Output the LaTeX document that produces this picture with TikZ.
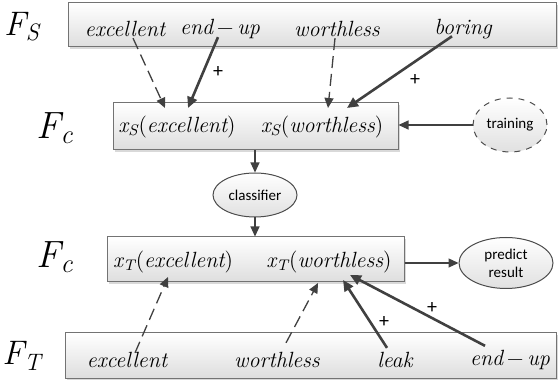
\documentclass[tikz,border=0pt]{standalone}
\usepackage{fontspec}
\newfontfamily\calibri{Carlito}
\usetikzlibrary{arrows.meta,shadows,shapes.geometric,calc}

\begin{document}
\begin{tikzpicture}[x=0.5pt,y=0.5pt,yscale=-1,xscale=1,
  band/.style={draw=black!55,line width=0.5pt,top color=white,bottom color=black!13,
    drop shadow={shadow xshift=1pt,shadow yshift=-1pt,fill=black!25,opacity=0.6},inner sep=0pt},
  oval/.style={ellipse,draw=black!70,line width=0.5pt,top color=white,bottom color=black!12,
    inner sep=0pt,align=center,font=\calibri\fontsize{7.5}{9}\selectfont},
  word/.style={inner sep=0pt,font=\fontsize{11}{13}\selectfont\itshape\addfontfeature{FakeBold=0.6}},
  lvl/.style={inner sep=0pt,font=\fontsize{17}{17}\selectfont\itshape\addfontfeature{FakeBold=0.8}},
  plus/.style={inner sep=0pt,font=\calibri\fontsize{10}{10}\selectfont},
  dsh/.style={draw=black!75,line width=0.65pt,dash pattern=on 6pt off 3pt,-{Triangle[length=5pt,width=4.5pt]}},
  gain/.style={draw=black!75,line width=1.3pt,-{Triangle[length=5.5pt,width=5pt]}},
  flow/.style={draw=black!75,line width=0.6pt,-{Triangle[length=5pt,width=4.5pt]}}]
\useasboundingbox (0,0) rectangle (560,383);

%Shape: Rectangle [source domain]
\node[band,minimum width=244pt,minimum height=22pt] (FSbox) at (312,25) {};
%Shape: Rectangle [common features, source]
\node[band,minimum width=142.5pt,minimum height=23.5pt] (C1) at (255.5,126.5) {};
%Shape: Rectangle [common features, target]
\node[band,minimum width=148.5pt,minimum height=22.5pt] (C2) at (255.5,259.5) {};
%Shape: Rectangle [target domain]
\node[band,minimum width=245.5pt,minimum height=22.5pt] (FTbox) at (310.5,355.5) {};

%Shape: Ellipse
\node[oval,dashed,minimum width=37pt,minimum height=27pt] (train) at (510,125) {training};
%Shape: Ellipse
\node[oval,minimum width=42pt,minimum height=22pt] (cls) at (255,195) {classifier};
%Shape: Ellipse
\node[oval,minimum width=47pt,minimum height=25.5pt] (pred) at (506,263) {predict\\result};

% Text Node
\node[lvl] (FS) at (22,27) {F\textsubscript{S}};
\node[lvl,font=\fontsize{19}{19}\selectfont\itshape\addfontfeature{FakeBold=1.6}] (Fc1) at (55,128) {F\textsubscript{c}};
\node[lvl,font=\fontsize{19}{19}\selectfont\itshape\addfontfeature{FakeBold=1.6}] (Fc2) at (55,257) {F\textsubscript{c}};
\node[lvl] (FT) at (22,356) {F\textsubscript{T}};

% Text Node
\node[word] (ex) at (125,29) {excellent};
\node[word] (endup) at (220,29) {end\,\upshape −\,\itshape up};
\node[word] (wl) at (337,29) {worthless};
\node[word] (bor) at (463,29) {boring};
% Text Node
\node[word] (xse) at (177,127) {x\textsubscript{S}\upshape(\itshape excellent\upshape)};
\node[word] (xsw) at (322,127) {x\textsubscript{S}\upshape(\itshape worthless\upshape)};
\node[word] (xte) at (173,262) {x\textsubscript{T}\upshape(\itshape excellent\upshape)};
\node[word] (xtw) at (329,262) {x\textsubscript{T}\upshape(\itshape worthless\upshape)};
% Text Node
\node[word] (bex) at (127,360) {excellent};
\node[word] (bwl) at (277,360) {worthless};
\node[word] (leak) at (395,360) {leak};
\node[word] (bend) at (510,360) {end\,\upshape −\,\itshape up};

%Arrow tips inside the feature boxes
\coordinate (tA) at (165,108);
\coordinate (tB) at (188,108);
\coordinate (tC) at (328,108);
\coordinate (tD) at (347,108);
\coordinate (bA) at (168,277);
\coordinate (bB) at (318,283);
\coordinate (bC) at (343,280);
\coordinate (bD) at (350,275);

%Straight Lines
\draw[dsh] ($(ex.south)+(8,1)$) -- (tA);
\draw[gain] ($(endup.south)+(-2,-2)$) -- (tB);
\draw[dsh] ($(wl.south)+(-2,1)$) -- (tC);
\draw[gain] ($(bor.south)+(-11,-3)$) -- (tD);
\draw[dsh] ($(bex.north)+(8,1)$) -- (bA);
\draw[dsh] ($(bwl.north)+(9,-9)$) -- (bB);
\draw[gain] ($(leak.north)+(-8,-4)$) -- (bC);
\draw[gain] ($(bend.north)+(-25,-4)$) -- (bD);

%Straight Lines
\draw[flow] (train.west) -- (train.west -| C1.east);
\draw[flow] (cls.north |- C1.south) -- (cls.north);
\draw[flow] (cls.south) -- (cls.south |- C2.north);
\draw[flow] (pred.west -| C2.east) -- (pred.west);

% Text Node
\node[plus] (p1) at (218,72) {+};
\node[plus] (p2) at (415,80) {+};
\node[plus] (p3) at (384,322) {+};
\node[plus] (p4) at (432,308) {+};

\end{tikzpicture}
\end{document}
